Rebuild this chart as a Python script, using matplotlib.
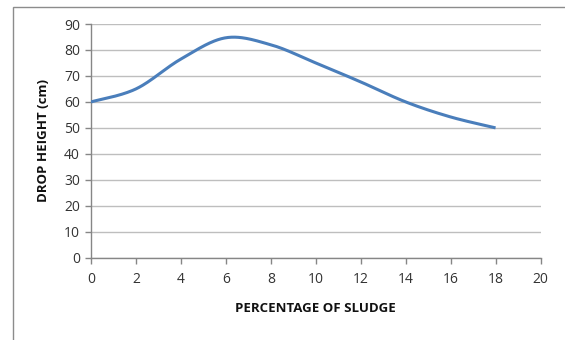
import numpy as np
import matplotlib
matplotlib.use("Agg")
import matplotlib.pyplot as plt
from matplotlib.patches import Rectangle

sludge_pct = [0, 2, 4, 6, 8, 10, 12, 14, 16, 18]
drop_height = [60, 65, 76.5, 84.7, 82, 75, 67.7, 60, 54.2, 50]
x_ticks = [0, 2, 4, 6, 8, 10, 12, 14, 16, 18, 20]
y_ticks = [0, 10, 20, 30, 40, 50, 60, 70, 80, 90]


def smooth(xs, ys, n=40):
    # Catmull-Rom style Bezier smoothing (Excel-like smoothed line)
    P = np.column_stack([xs, ys]).astype(float)
    out = []
    for i in range(len(P) - 1):
        p0 = P[i - 1] if i > 0 else P[i]
        p1, p2 = P[i], P[i + 1]
        p3 = P[i + 2] if i + 2 < len(P) else P[i + 1]
        c1 = p1 + (p2 - p0) / 6.0
        c2 = p2 - (p3 - p1) / 6.0
        t = np.linspace(0, 1, n)[:, None]
        seg = ((1 - t) ** 3) * p1 + 3 * ((1 - t) ** 2) * t * c1 + 3 * (1 - t) * t ** 2 * c2 + t ** 3 * p2
        out.append(seg if i == 0 else seg[1:])
    s = np.vstack(out)
    return s[:, 0], s[:, 1]


plt.rcParams['font.family'] = ['Open Sans', 'DejaVu Sans']

W, H = 565, 340
left, right, top, bottom = 91, 540.5, 24, 257.7
fig = plt.figure(figsize=(W / 100, H / 100), dpi=100)
ax = fig.add_axes([left / W, 1 - bottom / H, (right - left) / W, (bottom - top) / H])

sx, sy = smooth(sludge_pct, drop_height)
ax.plot(sx, sy, color='#4A7EBB', lw=2.2, solid_capstyle='butt', zorder=3)

ax.set_xlim(0, 20)
ax.set_ylim(0, 90)
ax.set_xticks(x_ticks)
ax.set_yticks(y_ticks)
ax.grid(axis='y', color='#BEBEBE', lw=1.0)
ax.grid(axis='x', visible=False)
ax.set_axisbelow(True)
for s in ['top', 'right']:
    ax.spines[s].set_visible(False)
for s in ['left', 'bottom']:
    ax.spines[s].set_color('#868686')
    ax.spines[s].set_linewidth(1.0)
ax.tick_params(axis='both', colors='#868686', labelcolor='#333333', labelsize=10, length=4, width=1.0)
ax.tick_params(axis='x', pad=6)
ax.tick_params(axis='y', pad=4)

ax.set_xlabel('PERCENTAGE OF SLUDGE', fontsize=9.5, fontweight='bold', color='#111111', labelpad=11)
ax.set_ylabel('DROP HEIGHT (cm)', fontsize=9.5, fontweight='bold', color='#111111', labelpad=10)

fig.patches.append(Rectangle((12.5 / W, -0.1), 1.2, 1.1 - 6.7 / H, transform=fig.transFigure,
                             fill=False, edgecolor='#8C8C8C', lw=1.0))

fig.savefig('out.png', dpi=100)
